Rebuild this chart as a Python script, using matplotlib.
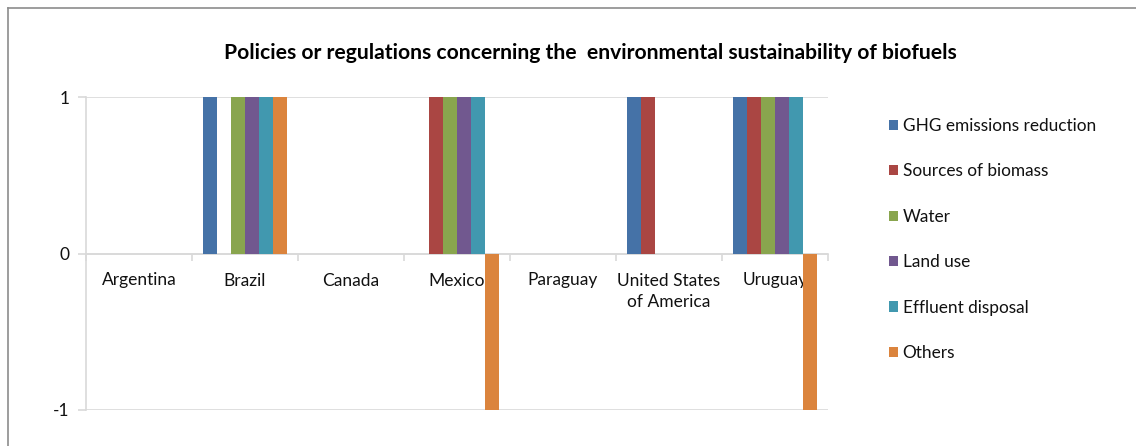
import matplotlib
matplotlib.use("Agg")
import matplotlib.pyplot as plt
from matplotlib.patches import Patch
from matplotlib.lines import Line2D
import numpy as np

plt.rcParams['font.family'] = ['Lato', 'DejaVu Sans']

categories = ["Argentina", "Brazil", "Canada", "Mexico", "Paraguay",
              "United States\nof America", "Uruguay"]
series_names = ["GHG emissions reduction", "Sources of biomass", "Water",
                "Land use", "Effluent disposal", "Others"]
ghg = [0, 1, 0, 0, 0, 1, 1]
biomass = [0, 0, 0, 1, 0, 1, 1]
water = [0, 1, 0, 1, 0, 0, 1]
land_use = [0, 1, 0, 1, 0, 0, 1]
effluent = [0, 1, 0, 1, 0, 0, 1]
others = [0, 1, 0, -1, 0, 0, -1]
series_values = [ghg, biomass, water, land_use, effluent, others]
colors = ["#4572A7", "#AA4643", "#89A54E", "#71588F", "#4198AF", "#DB843D"]
title = "Policies or regulations concerning the  environmental sustainability of biofuels"

W, H = 1136, 446
fig = plt.figure(figsize=(W / 100, H / 100), dpi=100)

# chart-area border (top and left visible)
fig.add_artist(Line2D([8 / W, 1], [1 - 8 / H, 1 - 8 / H], color="#8C8C8C", lw=1.2))
fig.add_artist(Line2D([8 / W, 8 / W], [0, 1 - 8 / H], color="#8C8C8C", lw=1.2))

left, right, top, bottom = 86, 828, 97, 410
ax = fig.add_axes([left / W, (H - bottom) / H, (right - left) / W, (bottom - top) / H])

n = len(categories)
x = np.arange(n)
bw = 14 / 106
for j, (vals, c) in enumerate(zip(series_values, colors)):
    ax.bar(x + (j - 2.5) * bw, vals, width=bw, color=c, zorder=3, label=series_names[j])

ax.set_xlim(-0.5, n - 0.5)
ax.set_ylim(-1, 1)
ax.set_yticks([-1, 0, 1])
ax.set_yticklabels(["-1", "0", "1"])
ax.yaxis.grid(True, color="#D9D9D9", lw=1.2, zorder=0)
ax.set_axisbelow(True)

for s in ["top", "right"]:
    ax.spines[s].set_visible(False)
ax.spines["left"].set_color("#D9D9D9")
ax.spines["left"].set_linewidth(1.2)
ax.spines["bottom"].set_position(("data", 0))
ax.spines["bottom"].set_color("#D9D9D9")
ax.spines["bottom"].set_linewidth(1.2)

ax.set_xticks(np.arange(n + 1) - 0.5)
ax.set_xticklabels([])
ax.tick_params(axis="x", direction="out", length=5, color="#D9D9D9", width=1.2)
ax.tick_params(axis="y", direction="out", length=6, color="#D9D9D9", width=1.2,
               labelsize=12.5, pad=6, labelcolor="#111111")

for i, name in enumerate(categories):
    ax.annotate(name, xy=(i, 0), xycoords="data", xytext=(0, -19),
                textcoords="offset pixels", ha="center", va="top",
                fontsize=12.5, color="#111111", linespacing=1.4, zorder=1,
                annotation_clip=False)

fig.text(590 / W, 1 - 53 / H, title, ha="center", va="center",
         fontsize=15.2, fontweight="bold", color="#000000")

handles = [Patch(facecolor=c, edgecolor="none") for c in colors]
fig.legend(handles, series_names, loc="upper left",
           bbox_to_anchor=(882 / W, 1 - 111 / H), frameon=False,
           fontsize=12.4, handlelength=0.55, handleheight=0.55,
           handletextpad=0.25, labelspacing=1.71, borderaxespad=0,
           labelcolor="#111111")

fig.savefig("out.png", dpi=100)
